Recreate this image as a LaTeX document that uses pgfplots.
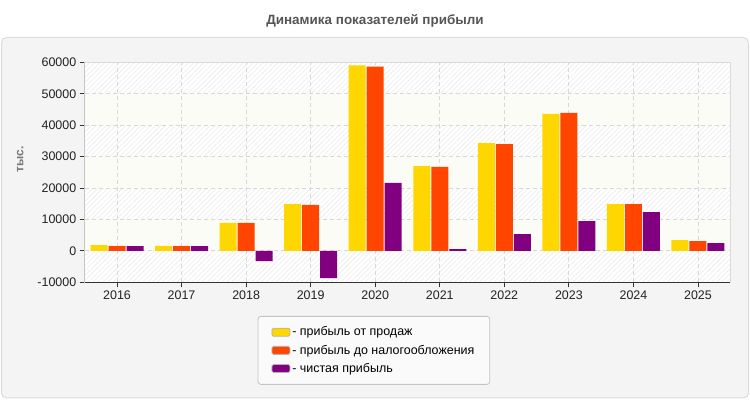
\documentclass[border=0pt]{standalone}
\usepackage{fontspec}
\setmainfont{Liberation Sans}
\usepackage{pgfplots}
\pgfplotsset{compat=1.18}
\usepackage{pgfplotstable}
\usetikzlibrary{patterns.meta,calc}

\definecolor{salescol}{HTML}{FFD700}
\definecolor{pretaxcol}{HTML}{FF4500}
\definecolor{netcol}{HTML}{800080}
\definecolor{panelbg}{HTML}{F4F4F4}
\definecolor{panelline}{HTML}{DCDCDC}
\definecolor{titlegray}{HTML}{555555}
\definecolor{labelgray}{HTML}{777777}
\definecolor{axisdark}{HTML}{333333}
\definecolor{boxgray}{HTML}{DADADA}
\definecolor{gridgray}{HTML}{D8D8D8}
\definecolor{hatchcol}{HTML}{ECECEC}
\definecolor{creamband}{HTML}{FCFCF6}
\definecolor{legbg}{HTML}{FAFAFA}
\definecolor{legline}{HTML}{C4C4C4}
\definecolor{tickcol}{HTML}{222222}

% profit indicators, thousands
\pgfplotstableread{
idx sales pretax net
0   1800  1500   1500
1   1600  1500   1500
2   8900  8900  -3300
3  14900 14600  -8700
4  59000 58600  21600
5  27000 26700    550
6  34300 34000   5300
7  43600 43900   9500
8  14900 14900  12300
9   3400  3100   2500
}\profit

\pgfplotsset{
  swatch/.style={legend image code/.code={
    \draw[##1, draw=gray!60, line width=0.8bp, rounded corners=1.5bp] (0bp,-4bp) rectangle (18bp,4bp);}},
}

\begin{document}
\begin{tikzpicture}
\useasboundingbox (0,0) rectangle (750bp,400bp);
\filldraw[fill=panelbg, draw=panelline, line width=1bp, rounded corners=5bp]
  (1.5bp,2bp) rectangle (748.5bp,362.5bp);
\node[font=\fontsize{13.5}{16}\selectfont\bfseries, text=titlegray]
  at (375bp,379.5bp) {Динамика показателей прибыли};

\begin{axis}[
  at={(84.75bp,117.7bp)}, anchor=south west,
  scale only axis, width=645.5bp, height=220bp,
  ybar, bar width=17bp,
  xmin=-0.5, xmax=9.5, ymin=-10000, ymax=60000,
  xtick={0,...,9},
  xticklabels={2016,2017,2018,2019,2020,2021,2022,2023,2024,2025},
  ytick={-10000,0,10000,20000,30000,40000,50000,60000},
  scaled y ticks=false,
  /pgf/number format/assume math mode=true,
  yticklabel style={/pgf/number format/1000 sep={}},
  tick label style={font=\fontsize{12.5}{15}\selectfont, text=tickcol},
  tick pos=left, tick align=outside, major tick length=5bp,
  tick style={draw=axisdark, line width=0.8bp},
  axis line style={draw=boxgray, line width=1bp},
  xmajorgrids, ymajorgrids,
  major grid style={draw=gridgray, line width=0.8bp, dash pattern=on 4bp off 3bp},
  axis background/.style={fill=white, path picture={
    \foreach \k in {0,2,4,6}{
      \pgfmathsetmacro\lo{\k/7}\pgfmathsetmacro\hi{(\k+1)/7}
      \fill[pattern={Lines[angle=45,distance=3.5bp,line width=0.6bp]}, pattern color=hatchcol]
        ($(path picture bounding box.south west)!\lo!(path picture bounding box.north west)$) rectangle
        ($(path picture bounding box.south east)!\hi!(path picture bounding box.north east)$);
    }
    \foreach \k in {1,3,5}{
      \pgfmathsetmacro\lo{\k/7}\pgfmathsetmacro\hi{(\k+1)/7}
      \fill[creamband]
        ($(path picture bounding box.south west)!\lo!(path picture bounding box.north west)$) rectangle
        ($(path picture bounding box.south east)!\hi!(path picture bounding box.north east)$);
    }
  }},
  ylabel={тыс.},
  ylabel style={at={(axis description cs:-0.1,0.56)}, anchor=center,
    font=\fontsize{12}{14}\selectfont\bfseries, text=labelgray},
  legend style={at={(0.448,-0.153)}, anchor=north, draw=legline, fill=legbg,
    line width=0.8bp, rounded corners=3bp, font=\fontsize{12.5}{15}\selectfont,
    inner xsep=13.5bp, inner ysep=8.5bp, row sep=3.6bp,
    /tikz/every even column/.append style={column sep=3bp}},
  legend cell align=left,
]
\addplot[fill=salescol, draw=none, bar shift=-18bp, swatch] table[x=idx, y=sales] {\profit};
\addplot[fill=pretaxcol, draw=none, bar shift=0bp, swatch] table[x=idx, y=pretax] {\profit};
\addplot[fill=netcol, draw=none, bar shift=18bp, swatch] table[x=idx, y=net] {\profit};
\legend{- прибыль от продаж, - прибыль до налогообложения, - чистая прибыль}
\draw[axisdark, line width=1bp] (rel axis cs:0,1) -- (rel axis cs:0,0) -- (rel axis cs:1,0);
\end{axis}
\end{tikzpicture}
\end{document}
